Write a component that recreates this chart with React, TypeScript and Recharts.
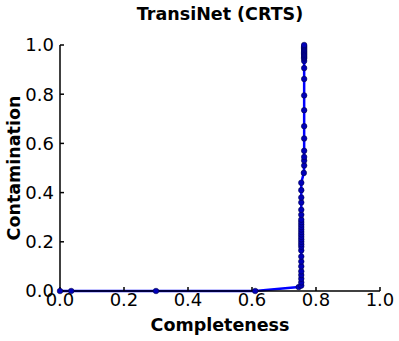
import { LineChart, Line, XAxis, YAxis } from "recharts";

// completeness / contamination pairs (bottom-left upwards)
const completeness = [
  0.0, 0.035, 0.3, 0.61, 0.746,
  0.754, 0.754, 0.754, 0.754, 0.754, 0.754, 0.754, 0.754, 0.754, 0.754,
  0.754, 0.754, 0.754, 0.754, 0.754, 0.754, 0.754, 0.754, 0.754, 0.754,
  0.754, 0.754, 0.754, 0.754, 0.754, 0.754, 0.754,
  0.762, 0.763, 0.763, 0.763, 0.763, 0.763, 0.763, 0.763, 0.763, 0.763,
  0.763, 0.763, 0.763, 0.763, 0.763, 0.763, 0.763, 0.763, 0.763, 0.763,
  0.763, 0.763, 0.763, 0.763,
];
const contamination = [
  0.0, 0.0, 0.0, 0.0, 0.016,
  0.022, 0.035, 0.05, 0.065, 0.08, 0.1, 0.12, 0.14, 0.165, 0.18,
  0.19, 0.2, 0.21, 0.22, 0.23, 0.24, 0.25, 0.26, 0.27, 0.28,
  0.29, 0.31, 0.33, 0.36, 0.38, 0.41, 0.44,
  0.48, 0.51, 0.53, 0.545, 0.57, 0.62, 0.67, 0.735, 0.795, 0.862,
  0.906, 0.935, 0.945, 0.95, 0.955, 0.96, 0.965, 0.97, 0.975, 0.98,
  0.985, 0.99, 0.995, 1.0,
];
const xTicks = [0, 0.2, 0.4, 0.6, 0.8, 1.0];
const yTicks = [0, 0.2, 0.4, 0.6, 0.8, 1.0];

const data = completeness.map((c, i) => ({ x: c, y: contamination[i] }));

const FONT = "'DejaVu Sans', sans-serif";
const fmt = (v: number) => v.toFixed(1);

export default function App() {
  return (
    <div style={{ position: "absolute", left: 0, top: 0, width: 399, height: 341, background: "#fff", fontFamily: FONT }}>
      <div
        style={{
          position: "absolute",
          left: 60,
          width: 320,
          top: 4,
          textAlign: "center",
          fontWeight: "bold",
          fontSize: 17.5,
          color: "#000",
        }}
      >
        TransiNet (CRTS)
      </div>
      <LineChart width={399} height={341} data={data} margin={{ top: 45, right: 19, bottom: 0, left: 0 }}>
        <XAxis
          type="number"
          dataKey="x"
          domain={[0, 1]}
          ticks={xTicks}
          tickFormatter={fmt}
          height={50}
          tickSize={-4}
          tickMargin={6}
          stroke="#000"
          strokeWidth={1.5}
          tick={{ fill: "#000", fontSize: 18, fontFamily: FONT }}
          label={{
            value: "Completeness",
            position: "insideBottom",
            offset: 10,
            style: { fill: "#000", fontSize: 17.5, fontWeight: "bold", fontFamily: FONT },
          }}
        />
        <YAxis
          type="number"
          dataKey="y"
          domain={[0, 1]}
          ticks={yTicks}
          tickFormatter={fmt}
          width={60}
          tickSize={-4}
          tickMargin={10}
          stroke="#000"
          strokeWidth={1.5}
          tick={{ fill: "#000", fontSize: 18, fontFamily: FONT }}
          label={{
            value: "Contamination",
            angle: -90,
            position: "insideLeft",
            offset: 14,
            style: { textAnchor: "middle", fill: "#000", fontSize: 17.5, fontWeight: "bold", fontFamily: FONT },
          }}
        />
        <Line
          type="linear"
          dataKey="y"
          stroke="#0000ff"
          strokeWidth={2.5}
          dot={{ r: 2.8, fill: "#0000b8", stroke: "#00003a", strokeWidth: 0.5 }}
          isAnimationActive={false}
        />
      </LineChart>
    </div>
  );
}
